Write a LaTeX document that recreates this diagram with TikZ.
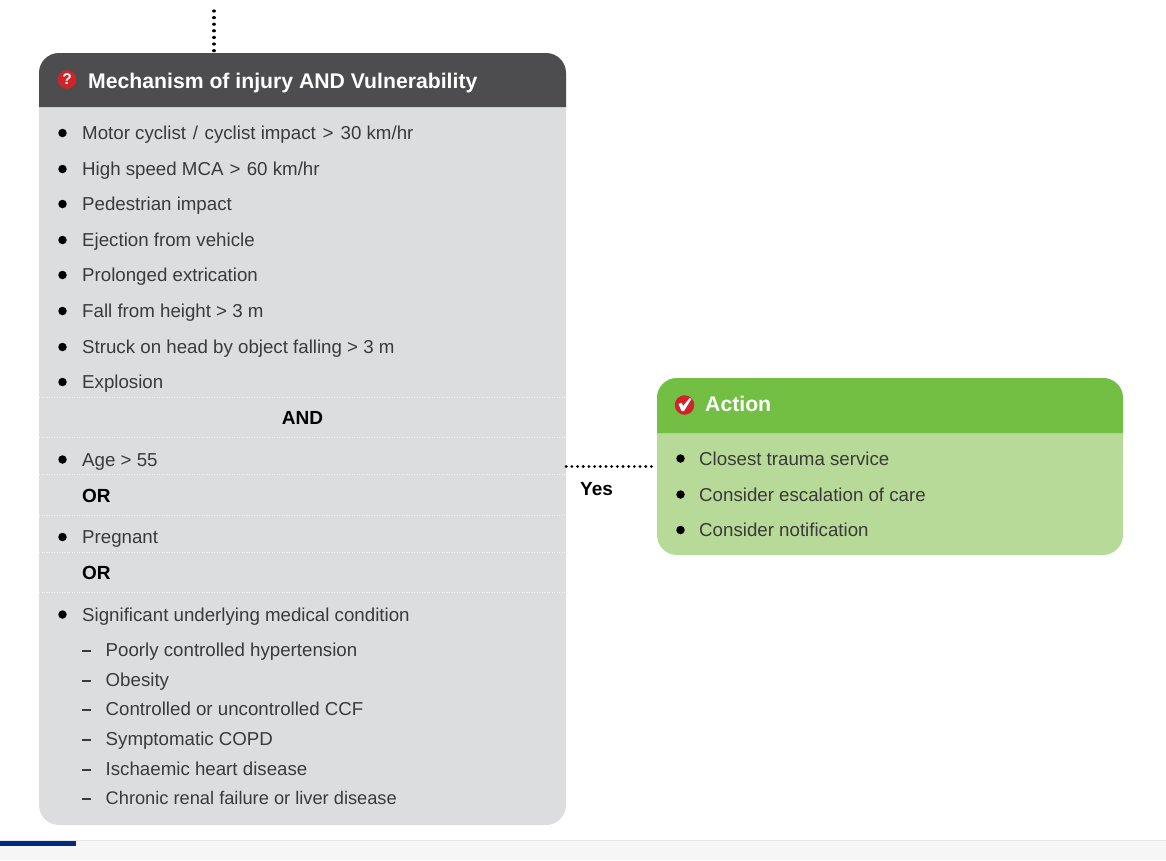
\documentclass[tikz,border=0pt]{standalone}
\usepackage{fontspec}
\setmainfont{Liberation Sans}
\definecolor{hdark}{HTML}{4D4D4F}
\definecolor{bodygrey}{HTML}{DCDDDF}
\definecolor{hgreen}{HTML}{72BF44}
\definecolor{bgreen}{HTML}{B7DA98}
\definecolor{qred}{HTML}{D2232A}
\definecolor{txt}{HTML}{3A3A3A}
\definecolor{navy}{HTML}{002B7F}
\definecolor{foot}{HTML}{F6F6F6}
\definecolor{footline}{HTML}{E6E6E6}
\tikzset{
  x=1pt,y=-1pt,
  panelbox/.style={rectangle,inner sep=0pt,rounded corners=20pt},
  itemtext/.style={anchor=base west,inner sep=0pt,font=\fontsize{18.7}{22}\selectfont,text=txt},
  boldtext/.style={anchor=base west,inner sep=0pt,font=\fontsize{19}{22}\selectfont\bfseries,text=black},
  headtext/.style={anchor=base west,inner sep=0pt,font=\fontsize{21.2}{24}\selectfont\bfseries,text=white},
  bulletdot/.style={circle,fill=black,inner sep=0pt,minimum size=8.5pt},
  dashmark/.style={fill=txt,inner sep=0pt,minimum width=9pt,minimum height=1.6pt},
  badge/.style={circle,fill=qred,inner sep=0pt,minimum size=18.5pt,text=white,font=\fontsize{15.5}{15.5}\selectfont\bfseries},
  sepline/.style={white,line width=.6pt,dash pattern=on 1pt off 1.5pt,opacity=.7},
  dotline/.style={black,line width=3.2pt,line cap=round,dash pattern=on 0.01pt off 5.67pt},
  dotlinev/.style={black,line width=3.2pt,line cap=round,dash pattern=on 0.01pt off 6.6pt}
}
\newcommand{\itm}[3]{\node[bulletdot] (#1d) at (62.5,#2) {};\node[itemtext] (#1) at (82,#2+6.8) {#3};}
\newcommand{\subitm}[3]{\node[dashmark] (#1d) at (86,#2+1) {};\node[itemtext] (#1) at (105.5,#2+6.8) {#3};}
\newcommand{\itmg}[3]{\node[bulletdot] (#1d) at (680.5,#2) {};\node[itemtext] (#1) at (699,#2+6.8) {#3};}
\begin{document}
\begin{tikzpicture}
\useasboundingbox (0,0) rectangle (1166,860);
% footer
\fill[foot] (0,841) rectangle (1166,860);
\draw[footline,line width=1pt] (0,840.5) -- (1166,840.5);
\fill[navy] (0,841) rectangle (76,846);
% left panel
\coordinate (topfree) at (214,11);
\node[panelbox,fill=bodygrey,minimum width=527pt,minimum height=772pt] (panel) at (302.5,439) {};
\fill[hdark] (39,107) [rounded corners=20pt] -- (39,53) -- (566,53) [sharp corners] -- (566,107) -- cycle;
\foreach \y in {397,437,474,515,552,592}{\draw[sepline] (39,\y) -- (566,\y);}
\node[badge] (qmark) at (67,79.5) {?};
\node[headtext] (headL) at (88,88) {Mechanism of injury AND Vulnerability};
\itm{a}{133}{Motor cyclist\hspace{1.5pt} /\hspace{1.5pt} cyclist impact\hspace{1.5pt} >\hspace{2pt} 30 km/hr}
\itm{b}{169}{High speed MCA\hspace{1pt} >\hspace{1pt} 60 km/hr}
\itm{c}{204}{Pedestrian impact}
\itm{d}{240}{Ejection from vehicle}
\itm{e}{275}{Prolonged extrication}
\itm{f}{311}{Fall from height > 3 m}
\itm{g}{347}{Struck on head by object falling > 3 m}
\itm{h}{382}{Explosion}
\node[boldtext,anchor=base] (andl) at (302.5,424.5) {AND};
\itm{i}{459.5}{Age > 55}
\node[boldtext] (or1) at (82,502) {OR};
\itm{j}{537}{Pregnant}
\node[boldtext] (or2) at (82,579) {OR};
\itm{k}{614.5}{Significant underlying medical condition}
\subitm{l}{650}{Poorly controlled hypertension}
\subitm{m}{680}{Obesity}
\subitm{n}{709}{Controlled or uncontrolled CCF}
\subitm{o}{739}{Symptomatic COPD}
\subitm{p}{769}{Ischaemic heart disease}
\subitm{q}{798}{{\fontsize{18.25}{22}\selectfont Chronic renal failure or liver disease}}
% right panel
\node[panelbox,fill=bgreen,minimum width=466pt,minimum height=177pt] (action) at (890,466.5) {};
\fill[hgreen] (657,433) [rounded corners=20pt] -- (657,378) -- (1123,378) [sharp corners] -- (1123,433) -- cycle;
\node[badge,minimum size=19.5pt] (tick) at (684.5,405) {};
\fill[white] (678.5,404) -- (681.5,402.8) -- (683.2,406) -- (689.5,398.2) -- (691.5,398.8) -- (684,411) -- (681.5,411) -- cycle;
\node[headtext] (headR) at (705,411) {Action};
\itmg{r}{458.5}{Closest trauma service}
\itmg{s}{494.5}{Consider escalation of care}
\itmg{t}{530}{Consider notification}
% connectors
\draw[dotlinev] (topfree) -- (topfree |- panel.north);
\draw[dotline] (panel.east |- action.west) -- (action.west);
\node[boldtext] (yes) at (580,495) {Yes};
\end{tikzpicture}
\end{document}
